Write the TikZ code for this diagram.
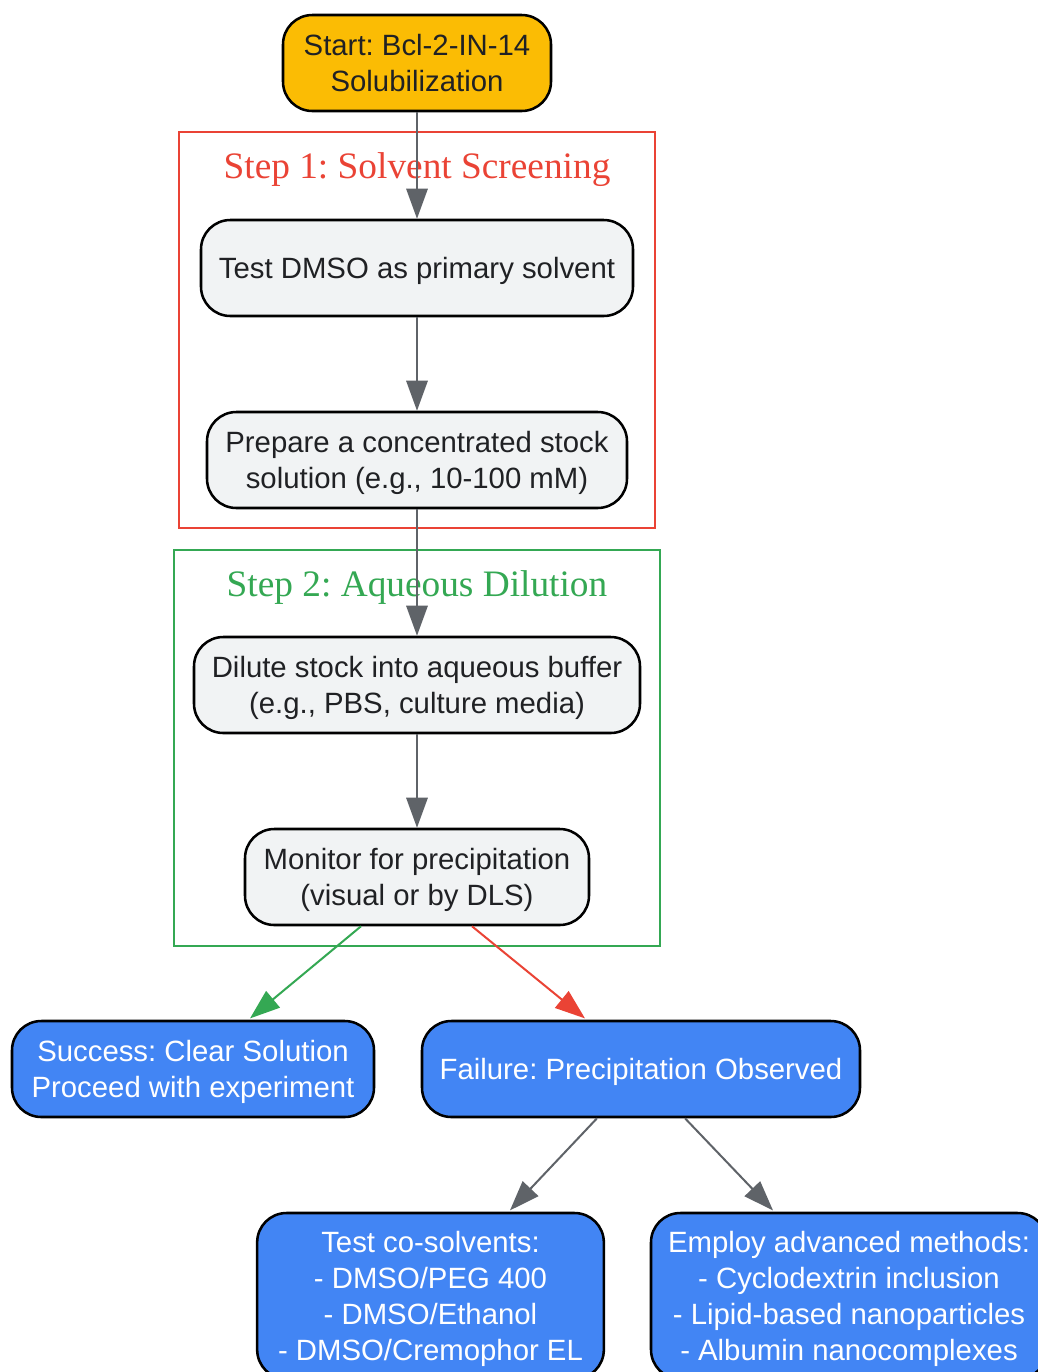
\documentclass[tikz,border=0pt]{standalone}
\usepackage{fontspec}
\setmainfont{Liberation Serif}
\setsansfont{Liberation Sans}
\usetikzlibrary{arrows.meta,calc}
\frenchspacing
\definecolor{startfill}{HTML}{FBBC04}
\definecolor{lightfill}{HTML}{F1F3F4}
\definecolor{bluefill}{HTML}{4285F4}
\definecolor{darktext}{HTML}{202124}
\definecolor{edgegray}{HTML}{5F6368}
\definecolor{redc}{HTML}{EA4335}
\definecolor{greenc}{HTML}{34A853}
\tikzset{
  box/.style={draw=black, line width=1.9pt, rounded corners=22pt, inner sep=0pt,
    minimum height=72pt, align=center, text=darktext, text depth=0pt,
    font=\sffamily\frenchspacing\fontsize{22}{27}\selectfont},
  lightbox/.style={box, fill=lightfill},
  startbox/.style={box, fill=startfill, text depth=-3pt},
  bluebox/.style={box, fill=bluefill, text=white},
  cluster/.style={line width=1.5pt},
  ctitle/.style={font=\rmfamily\frenchspacing\fontsize{28}{32}\selectfont},
  conn/.style={line width=1.5pt, draw=edgegray, -{Triangle[length=22.5pt,width=16pt]}},
}
\begin{document}
\begin{tikzpicture}[x=0.75pt,y=-0.75pt]
\useasboundingbox (0,0) rectangle (1038,1372);
\clip (0,0) rectangle (1038,1372);
\fill[white] (0,0) rectangle (1038,1372);
% clusters
\draw[cluster, draw=redc] (179,132) rectangle (655,528);
\node[ctitle, text=redc] (t1) at (417,170) {Step 1: Solvent Screening};
\draw[cluster, draw=greenc] (174,550) rectangle (660,946);
\node[ctitle, text=greenc] (t2) at (417,588) {Step 2: Aqueous Dilution};
% nodes
\node[startbox, minimum width=201pt] (start) at (417,63) {Start: Bcl-2-IN-14\\Solubilization};
\node[lightbox, minimum width=324pt] (test) at (417,268) {Test DMSO as primary solvent};
\node[lightbox, minimum width=315pt] (prep) at (417,460) {Prepare a concentrated stock\\solution (e.g., 10-100 mM)};
\node[lightbox, minimum width=334.5pt] (dil) at (417,685) {Dilute stock into aqueous buffer\\(e.g., PBS, culture media)};
\node[lightbox, minimum width=258pt] (mon) at (417,877) {Monitor for precipitation\\(visual or by DLS)};
\node[bluebox, minimum width=271.5pt] (succ) at (193,1069) {Success: Clear Solution\\Proceed with experiment};
\node[bluebox, minimum width=328.5pt] (fail) at (641,1069) {Failure: Precipitation Observed};
\node[bluebox, minimum width=260pt, minimum height=124.5pt] (co) at (430.5,1296) {Test co-solvents:\\- DMSO/PEG 400\\- DMSO/Ethanol\\- DMSO/Cremophor EL};
\node[bluebox, minimum width=297pt, minimum height=124.5pt] (adv) at (849,1296) {Employ advanced methods:\\- Cyclodextrin inclusion\\- Lipid-based nanoparticles\\- Albumin nanocomplexes};
% edges
\draw[conn] (start.south) -- (test.north);
\draw[conn] (test.south) -- (prep.north);
\draw[conn] (prep.south) -- (dil.north);
\draw[conn] (dil.south) -- (mon.north);
\draw[conn, draw=greenc, fill=greenc] ([xshift=-42pt]mon.south) -- ([xshift=42.75pt,yshift=1pt]succ.north);
\draw[conn, draw=redc, fill=redc] ([xshift=41.25pt]mon.south) -- ([xshift=-42pt,yshift=1pt]fail.north);
\draw[conn, fill=edgegray] ([xshift=-33pt]fail.south) -- ([xshift=59.6pt,yshift=1pt]co.north);
\draw[conn, fill=edgegray] ([xshift=33pt]fail.south) -- ([xshift=-57pt,yshift=1pt]adv.north);
\end{tikzpicture}
\end{document}
